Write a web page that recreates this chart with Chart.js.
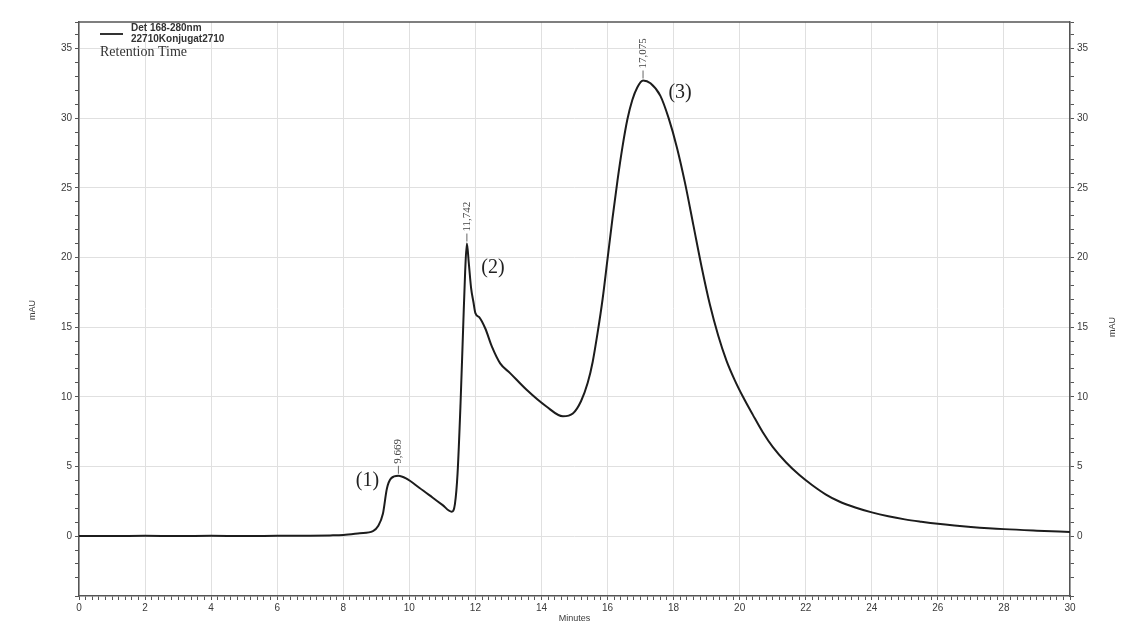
<!DOCTYPE html>
<html>
<head>
<meta charset="utf-8">
<title>Det 168-280nm</title>
<script src="https://cdn.jsdelivr.net/npm/chart.js@4.4.1/dist/chart.umd.min.js"></script>
<style>
  body { margin: 0; background: #fff; }
  canvas { display: block; }
</style>
</head>
<body>
<canvas id="chrom" width="1127" height="626"></canvas>
<script>
// retention time in minutes
const minutes = [0, 1, 2, 3, 4, 5, 6, 7, 7.6, 8.0, 8.5, 8.9, 9.05, 9.2, 9.32, 9.45,
  9.669, 9.9, 10.3, 10.7, 11.0, 11.28, 11.38, 11.46, 11.55, 11.63, 11.69, 11.742,
  11.8, 11.87, 11.94, 12.0, 12.12, 12.3, 12.5, 12.75, 13.05, 13.55, 14.15, 14.65,
  14.95, 15.2, 15.4, 15.55, 15.7, 15.85, 16.0, 16.15, 16.3, 16.45, 16.6, 16.75, 16.9,
  17.075, 17.3, 17.6, 17.85, 18.1, 18.35, 18.6, 18.85, 19.1, 19.35, 19.6, 19.85,
  20.1, 20.4, 20.7, 21.0, 21.4, 21.8, 22.2, 22.6, 23.0, 23.5, 24.0, 24.5, 25.0,
  25.5, 26.0, 26.5, 27, 28, 29, 30];
// detector signal, mAU
const mAU = [0, 0, 0.02, 0, 0.02, 0, 0.02, 0.03, 0.05, 0.08, 0.2, 0.35, 0.7, 1.6, 3.4, 4.15,
  4.33, 4.14, 3.47, 2.77, 2.24, 1.75, 2.3, 4.5, 9.5, 15, 19, 21.0,
  19.6, 17.8, 16.8, 16.0, 15.7, 14.9, 13.6, 12.4, 11.7, 10.5, 9.3, 8.6,
  8.8, 9.7, 11.0, 12.5, 14.6, 17.0, 19.9, 22.8, 25.5, 27.9, 29.9, 31.3, 32.2,
  32.7, 32.5, 31.6, 30.0, 27.9, 25.3, 22.3, 19.3, 16.6, 14.4, 12.6, 11.2,
  10.0, 8.7, 7.45, 6.4, 5.3, 4.4, 3.65, 3.0, 2.5, 2.05, 1.7, 1.42, 1.2,
  1.03, 0.88, 0.76, 0.66, 0.5, 0.39, 0.3];

// integrated peaks
const peakTimes = [9.669, 11.742, 17.075];
const peakNames = ['(1)', '(2)', '(3)'];

// axis labels
const xTickLabels = [0, 2, 4, 6, 8, 10, 12, 14, 16, 18, 20, 22, 24, 26, 28, 30];
const yTickLabels = [0, 5, 10, 15, 20, 25, 30, 35];

const AXIS = '#555';
const GRID = '#e0e0e0';
const TEXT = '#3a3a3a';

const near = (v, list) => list.some(l => Math.abs(v - l) < 1e-6);

// where the "(n)" names sit relative to each peak apex, px
const nameOffsets = [[-31, 5], [26, 24], [37, 12]];

const decorations = {
  id: 'decorations',
  afterDatasetsDraw(chart) {
    const { ctx, chartArea: a, scales: { x, y } } = chart;
    ctx.save();

    // top edge of the frame
    ctx.strokeStyle = AXIS;
    ctx.lineWidth = 1.5;
    ctx.beginPath();
    ctx.moveTo(a.left, a.top);
    ctx.lineTo(a.right, a.top);
    ctx.stroke();

    // trace legend
    ctx.strokeStyle = '#333';
    ctx.lineWidth = 2;
    ctx.beginPath();
    ctx.moveTo(100, 34);
    ctx.lineTo(123, 34);
    ctx.stroke();
    ctx.fillStyle = '#333';
    ctx.font = 'bold 10px "Liberation Sans", Arial, sans-serif';
    ctx.textAlign = 'left';
    ctx.textBaseline = 'middle';
    ctx.fillText('Det 168-280nm', 131, 28.5);
    ctx.fillText('22710Konjugat2710', 131, 39);
    ctx.font = '14px "Liberation Serif", "Times New Roman", serif';
    ctx.fillText('Retention Time', 100, 52);

    // peak apex labels
    peakTimes.forEach((t, i) => {
      const v = mAU[minutes.indexOf(t)];
      const px = x.getPixelForValue(t);
      const py = y.getPixelForValue(v);
      ctx.strokeStyle = '#666';
      ctx.lineWidth = 1;
      ctx.beginPath();
      ctx.moveTo(px, py - 2);
      ctx.lineTo(px, py - 10);
      ctx.stroke();
      ctx.save();
      ctx.translate(px, py - 12);
      ctx.rotate(-Math.PI / 2);
      ctx.fillStyle = '#444';
      ctx.font = '11px "Liberation Serif", "Times New Roman", serif';
      ctx.textAlign = 'left';
      ctx.textBaseline = 'middle';
      ctx.fillText(t.toFixed(3).replace('.', ','), 0, 0);
      ctx.restore();

      ctx.fillStyle = '#222';
      ctx.font = '20px "Liberation Serif", "Times New Roman", serif';
      ctx.textAlign = 'center';
      ctx.textBaseline = 'middle';
      ctx.fillText(peakNames[i], px + nameOffsets[i][0], py + nameOffsets[i][1]);
    });

    // axis titles
    ctx.fillStyle = TEXT;
    ctx.font = '9px "Liberation Sans", Arial, sans-serif';
    ctx.textAlign = 'center';
    ctx.textBaseline = 'middle';
    ctx.fillText('Minutes', (a.left + a.right) / 2, 619);
    [[33, 310], [1113, 327]].forEach(([tx, ty]) => {
      ctx.save();
      ctx.translate(tx, ty);
      ctx.rotate(-Math.PI / 2);
      ctx.fillText('mAU', 0, 0);
      ctx.restore();
    });
    ctx.restore();
  }
};

const tickFont = { family: '"Liberation Sans", Arial, sans-serif', size: 10 };

const yAxis = (position, width) => ({
  type: 'linear',
  position: position,
  min: -4.3,
  max: 36.9,
  afterFit: s => { s.width = width; },
  border: { color: AXIS, width: 1.5 },
  grid: {
    drawOnChartArea: position === 'left',
    color: c => near(c.tick.value, yTickLabels) ? GRID : 'rgba(0,0,0,0)',
    tickColor: AXIS,
    tickLength: 4
  },
  ticks: {
    stepSize: 1,
    autoSkip: false,
    padding: 3,
    color: TEXT,
    font: tickFont,
    callback: v => near(v, yTickLabels) ? Math.round(v) : ''
  }
});

new Chart(document.getElementById('chrom'), {
  type: 'line',
  data: {
    datasets: [{
      label: 'Det 168-280nm',
      data: minutes.map((t, i) => ({ x: t, y: mAU[i] })),
      borderColor: '#1c1c1c',
      borderWidth: 2,
      pointRadius: 0,
      cubicInterpolationMode: 'monotone',
      yAxisID: 'y'
    }]
  },
  options: {
    responsive: false,
    animation: false,
    layout: { padding: { top: 22, left: 0, right: 0, bottom: 0 } },
    plugins: { legend: { display: false }, tooltip: { enabled: false } },
    scales: {
      x: {
        type: 'linear',
        min: 0,
        max: 30,
        afterFit: s => { s.height = 30; },
        border: { color: AXIS, width: 1.5 },
        grid: {
          color: c => near(c.tick.value, xTickLabels) ? GRID : 'rgba(0,0,0,0)',
          tickColor: AXIS,
          tickLength: 4
        },
        ticks: {
          stepSize: 0.2,
          autoSkip: false,
          maxRotation: 0,
          padding: 2,
          color: TEXT,
          font: tickFont,
          callback: v => near(v, xTickLabels) ? Math.round(v) : ''
        }
      },
      y: yAxis('left', 79),
      y2: yAxis('right', 57)
    }
  },
  plugins: [decorations]
});
</script>
</body>
</html>
